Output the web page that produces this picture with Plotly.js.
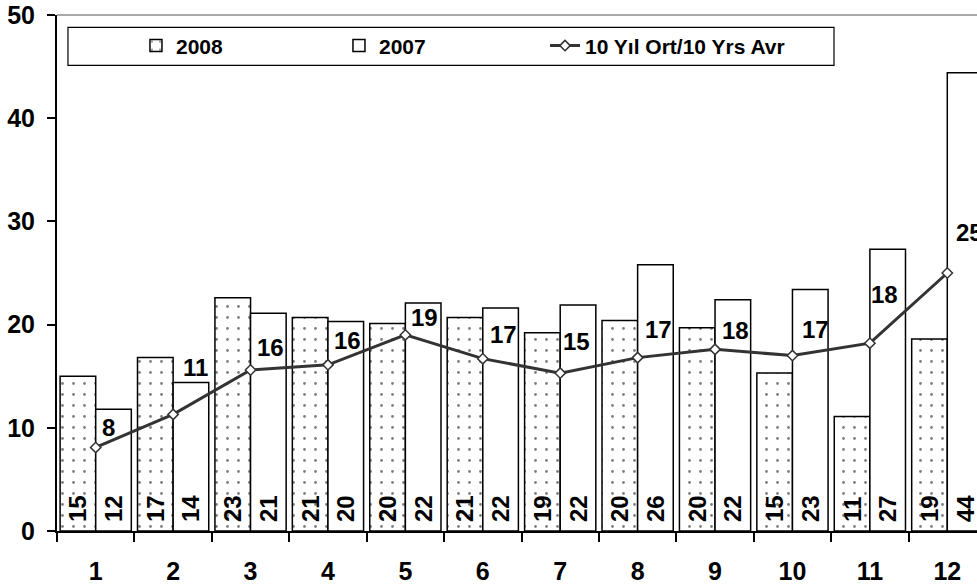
<!DOCTYPE html>
<html>
<head>
<meta charset="utf-8">
<script src="https://cdn.plot.ly/plotly-3.0.1.min.js"></script>
<style>
  html, body { margin: 0; padding: 0; overflow: hidden; background: #fff; }
  #chart { width: 1000px; height: 587px; }
</style>
</head>
<body>
<div id="chart"></div>
<script>
// ---- data ----
const months = ['1','2','3','4','5','6','7','8','9','10','11','12'];
const values2008 = [15.0, 16.8, 22.6, 20.7, 20.1, 20.7, 19.2, 20.4, 19.7, 15.3, 11.1, 18.6];
const values2007 = [11.8, 14.4, 21.1, 20.3, 22.1, 21.6, 21.9, 25.8, 22.4, 23.4, 27.3, 44.4];
const avg10 = [8.1, 11.3, 15.6, 16.1, 19.0, 16.7, 15.3, 16.8, 17.6, 17.0, 18.2, 25.0];
const seriesNames = ['2008', '2007', '10 Yıl Ort/10 Yrs Avr'];

// label placement offsets (pixels) for the average line's value labels
const avgLabelDx = [13, 22, 20, 20, 19, 21, 16, 21, 20, 23, 15, 22];
const avgLabelDy = [20, 47, 23, 24, 17, 24, 32, 28, 19, 26, 49, 41];

const FONT = 'Liberation Sans, Arial, sans-serif';
const barText = {family: FONT, size: 24, color: '#000', weight: 'bold'};
const LEAD = '\u2005';
const legendFont = {family: FONT, size: 21, color: '#000', weight: 'bold'};

const traces = [
  {
    type: 'bar', name: seriesNames[0], x: months, y: values2008, legend: 'legend',
    marker: {
      color: '#ffffff',
      line: {color: '#000', width: 1.5},
      pattern: {shape: '.', size: 11, solidity: 0.05, fgcolor: '#000', bgcolor: '#ffffff', fillmode: 'overlay'}
    },
    texttemplate: LEAD + '%{y:.0f}', textposition: 'inside', textangle: -90,
    insidetextanchor: 'start', insidetextfont: barText, constraintext: 'none',
    hoverinfo: 'skip'
  },
  {
    type: 'bar', name: seriesNames[1], x: months, y: values2007, legend: 'legend',
    marker: {color: '#ffffff', line: {color: '#000', width: 1.5}},
    texttemplate: LEAD + '%{y:.0f}', textposition: 'inside', textangle: -90,
    insidetextanchor: 'start', insidetextfont: barText, constraintext: 'none',
    hoverinfo: 'skip'
  },
  {
    type: 'scatter', mode: 'lines+markers', name: seriesNames[2], x: months, y: avg10, legend: 'legend2',
    line: {color: '#333333', width: 3},
    marker: {symbol: 'diamond', size: 8, color: '#ffffff', line: {color: '#333333', width: 1.5}},
    hoverinfo: 'skip'
  }
];

// annotations use the category index on the category axis
const annotations = avg10.map((v, i) => ({
  x: i, y: v, xref: 'x', yref: 'y',
  text: String(Math.round(v)),
  showarrow: false, xanchor: 'center', yanchor: 'middle',
  xshift: avgLabelDx[i], yshift: avgLabelDy[i],
  font: {family: FONT, size: 24, color: '#000', weight: 'bold'}
}));

const layout = {
  width: 1000, height: 587,
  margin: {l: 57, r: 14, t: 15, b: 56, pad: 0},
  paper_bgcolor: '#ffffff', plot_bgcolor: '#ffffff',
  barmode: 'group', bargap: 0.08, bargroupgap: 0,
  showlegend: true,
  legend: {
    orientation: 'h', x: 0.085, xanchor: 'left', y: 0.94, yanchor: 'middle',
    entrywidth: 158, entrywidthmode: 'pixels',
    font: legendFont, bgcolor: 'rgba(0,0,0,0)', borderwidth: 0, traceorder: 'normal'
  },
  legend2: {
    orientation: 'h', x: 0.5253, xanchor: 'left', y: 0.94, yanchor: 'middle',
    font: legendFont, bgcolor: 'rgba(0,0,0,0)', borderwidth: 0
  },
  xaxis: {
    type: 'category', range: [-0.5, 11.5], autorange: false,
    showline: true, linecolor: '#000', linewidth: 2,
    ticks: 'outside', tickson: 'boundaries', ticklen: 9, tickwidth: 2, tickcolor: '#000',
    showgrid: false, zeroline: false, ticklabelstandoff: 17,
    tickfont: {family: FONT, size: 25, color: '#000', weight: 'bold'}
  },
  yaxis: {
    range: [0, 50], autorange: false, dtick: 10, showline: true, linecolor: '#000', linewidth: 2,
    ticks: 'outside', ticklen: 8, tickwidth: 2, tickcolor: '#000',
    showgrid: false, zeroline: false, ticklabelstandoff: 7,
    tickfont: {family: FONT, size: 25, color: '#000', weight: 'bold'}
  },
  shapes: [
    {type: 'line', xref: 'paper', yref: 'paper', x0: 0, x1: 1, y0: 1, y1: 1,
     line: {color: '#8c8c8c', width: 1.5}},
    {type: 'rect', xref: 'paper', yref: 'paper', x0: 0.0118, x1: 0.8364, y0: 0.9025, y1: 0.9762,
     line: {color: '#000', width: 1.2}, fillcolor: 'rgba(0,0,0,0)', layer: 'above'}
  ],
  annotations: annotations
};

Plotly.newPlot('chart', traces, layout, {displayModeBar: false, staticPlot: true});
</script>
</body>
</html>
